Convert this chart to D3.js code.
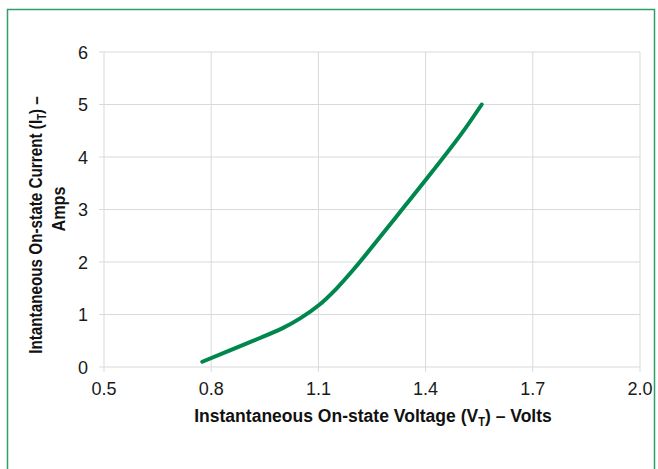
<!DOCTYPE html>
<html>
<head>
<meta charset="utf-8">
<script src="https://cdn.jsdelivr.net/npm/d3@7"></script>
<style>
  body { margin: 0; background: #fff; }
  svg { display: block; }
</style>
</head>
<body>
<div id="container"></div>
<script>
// chart data
const voltage = [0.775, 0.9, 1.0, 1.05, 1.1, 1.15, 1.2, 1.3, 1.4, 1.5, 1.557];
const current = [0.10, 0.45, 0.74, 0.93, 1.17, 1.49, 1.87, 2.71, 3.56, 4.44, 5.0];
const xTicks = [0.5, 0.8, 1.1, 1.4, 1.7, 2.0];
const yTicks = [0, 1, 2, 3, 4, 5, 6];

const width = 658, height = 469;
const margin = { top: 52, right: 18, bottom: 102, left: 104 };

const svg = d3.select("#container").append("svg")
  .attr("width", width)
  .attr("height", height);

// outer frame
svg.append("rect")
  .attr("x", 7.5).attr("y", 9.5)
  .attr("width", 647).attr("height", 470)
  .attr("fill", "none")
  .attr("stroke", "#2f9e6b")
  .attr("stroke-width", 1.5);

const x = d3.scaleLinear().domain([0.5, 2.0]).range([margin.left, width - margin.right]);
const y = d3.scaleLinear().domain([0, 6]).range([height - margin.bottom, margin.top]);

// gridlines (with short tick stubs past the axes)
svg.append("g").selectAll("line")
  .data(xTicks).enter().append("line")
  .attr("x1", d => x(d)).attr("x2", d => x(d))
  .attr("y1", y(6)).attr("y2", y(0) + 5)
  .attr("stroke", "#d9d9d9").attr("stroke-width", 1);

svg.append("g").selectAll("line")
  .data(yTicks).enter().append("line")
  .attr("x1", x(0.5) - 5).attr("x2", x(2.0))
  .attr("y1", d => y(d)).attr("y2", d => y(d))
  .attr("stroke", "#d9d9d9").attr("stroke-width", 1);

// tick labels
svg.append("g").selectAll("text")
  .data(xTicks).enter().append("text")
  .attr("x", d => x(d))
  .attr("y", y(0) + 28)
  .attr("text-anchor", "middle")
  .attr("font-family", "Liberation Sans, Arial, sans-serif")
  .attr("font-size", "18px")
  .attr("fill", "#1a1a1a")
  .text(d => d.toFixed(1));

svg.append("g").selectAll("text")
  .data(yTicks).enter().append("text")
  .attr("x", x(0.5) - 16)
  .attr("y", d => y(d) + 6.5)
  .attr("text-anchor", "end")
  .attr("font-family", "Liberation Sans, Arial, sans-serif")
  .attr("font-size", "18px")
  .attr("fill", "#1a1a1a")
  .text(d => d);

// axis titles: bold, squeezed to look like a narrow face
const titleFont = "'Liberation Sans Narrow', 'Arial Narrow', 'Liberation Sans', sans-serif";

function title(g, parts, targetWidth) {
  const t = g.append("text")
    .attr("text-anchor", "middle")
    .attr("font-family", titleFont)
    .attr("font-weight", "bold")
    .attr("font-size", "19px")
    .attr("fill", "#111");
  parts.forEach(p => {
    const s = t.append("tspan").text(p.text);
    if (p.sub) s.attr("font-size", "12px").attr("dy", 4);
    if (p.back) s.attr("dy", -4);
  });
  const w = t.node().getBBox().width;
  t.attr("transform", `scale(${targetWidth / w},1)`);
  return t;
}

const xg = svg.append("g").attr("transform", "translate(373,422)");
title(xg, [
  { text: "Instantaneous On-state Voltage (V" },
  { text: "T", sub: true },
  { text: ") \u2013 Volts", back: true }
], 358);

const yg1 = svg.append("g").attr("transform", "translate(42,225) rotate(-90)");
title(yg1, [
  { text: "Intantaneous On-state Current (I" },
  { text: "T", sub: true },
  { text: ") \u2013", back: true }
], 258);

const yg2 = svg.append("g").attr("transform", "translate(65,209) rotate(-90)");
title(yg2, [{ text: "Amps" }], 45);

// curve
const data = voltage.map((v, i) => ({ v: v, c: current[i] }));
svg.append("path")
  .datum(data)
  .attr("fill", "none")
  .attr("stroke", "#00874e")
  .attr("stroke-width", 4)
  .attr("stroke-linecap", "round")
  .attr("d", d3.line().x(d => x(d.v)).y(d => y(d.c)).curve(d3.curveCatmullRom));
</script>
</body>
</html>
